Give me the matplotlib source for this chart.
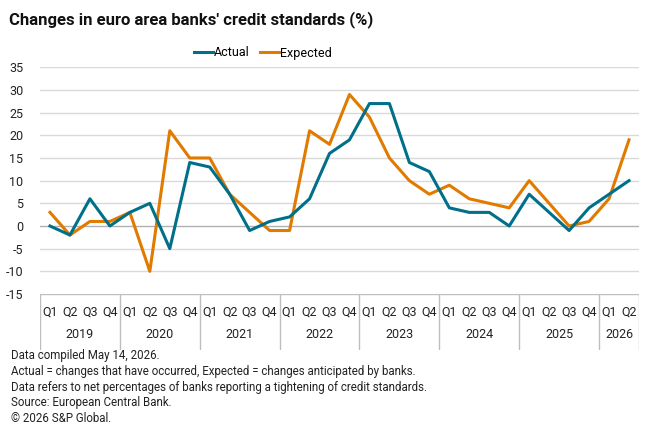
import matplotlib
matplotlib.use("Agg")
import matplotlib.pyplot as plt
from matplotlib import font_manager

years = ["2019", "2020", "2021", "2022", "2023", "2024", "2025", "2026"]
quarters = ["Q1", "Q2", "Q3", "Q4"] * 7 + ["Q1", "Q2"]
actual = [0, -2, 6, 0, 3, 5, -5, 14, 13, 7, -1, 1, 2, 6, 16, 19,
          27, 27, 14, 12, 4, 3, 3, 0, 7, 3, -1, 4, 7, 10]
expected = [3, -2, 1, 1, 3, -10, 21, 15, 15, 7, 3, -1, -1, 21, 18, 29,
            24, 15, 10, 7, 9, 6, 5, 4, 10, 5, 0, 1, 6, 19]
yticks = list(range(-15, 40, 5))
notes = ["Data compiled May 14, 2026.",
         "Actual = changes that have occurred, Expected = changes anticipated by banks.",
         "Data refers to net percentages of banks reporting a tightening of credit standards.",
         "Source: European Central Bank.",
         "\u00a9 2026 S&P Global."]

names = {f.name for f in font_manager.fontManager.ttflist}
fam = "Liberation Sans Narrow" if "Liberation Sans Narrow" in names else "Roboto"
plt.rcParams["font.family"] = [fam, "DejaVu Sans"]

W, H = 660, 434
fig = plt.figure(figsize=(6.6, 4.34), dpi=100)

def px(l, t, r, b):
    return [l / W, 1 - b / H, (r - l) / W, (b - t) / H]

TEAL = "#00708a"
ORANGE = "#e07b00"
GRID = "#d9d9d9"
x = list(range(len(actual)))

ax = fig.add_axes(px(40, 67.3, 639, 294))
for v in yticks[1:]:
    ax.axhline(v, color="#b0b0b0" if v == 0 else GRID, lw=1, zorder=0)
l1, = ax.plot(x, actual, color=TEAL, lw=2.2, label="Actual", zorder=3)
l2, = ax.plot(x, expected, color=ORANGE, lw=2.2, label="Expected", zorder=2)
ax.set_xlim(-0.5, len(x) - 0.5)
ax.set_ylim(-15, 35)
ax.set_yticks(yticks)
ax.set_yticklabels([str(v) for v in yticks], fontsize=9, color="#222222")
ax.tick_params(axis="y", length=0, pad=12)
ax.set_xticks([])
for s in ax.spines.values():
    s.set_visible(False)

# category box below the plot
bx = fig.add_axes(px(40, 294, 639, 350))
bx.set_xlim(-0.5, len(x) - 0.5)
bx.set_ylim(0, 1)
bx.axis("off")
bx.plot([-0.5, len(x) - 0.5], [1, 1], color="#bfbfbf", lw=1)
bounds = [-0.5 + 4 * i for i in range(len(years))] + [len(x) - 0.5]
for b in bounds:
    bx.plot([b, b], [0, 1], color="#bfbfbf", lw=1)
for i, q in enumerate(quarters):
    bx.text(i, 0.68, q, ha="center", va="center", fontsize=9, color="#222222")
for i, yr in enumerate(years):
    c = (bounds[i] + bounds[i + 1]) / 2
    bx.text(c, 0.28, yr, ha="center", va="center", fontsize=9, color="#222222")

fig.text(9 / W, 1 - 20 / H, "Changes in euro area banks' credit standards (%)",
         fontsize=12, fontweight="bold", va="center", ha="left", color="#111111")

fig.legend(handles=[l1, l2], loc="center", bbox_to_anchor=(263 / W, 1 - 53 / H),
           ncol=2, frameon=False, fontsize=9, handlelength=1.5,
           handletextpad=0.1, columnspacing=0.8, borderpad=0)

for i, n in enumerate(notes):
    fig.text(11 / W, 1 - (356 + 15.6 * i) / H, n, fontsize=8.3, va="center",
             ha="left", color="#222222")

fig.savefig("out.png", dpi=100, facecolor="white")
